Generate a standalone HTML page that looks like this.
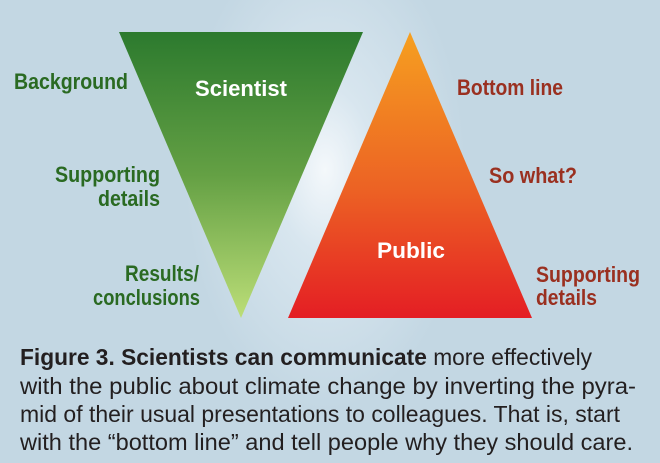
<!DOCTYPE html>
<html><head><meta charset="utf-8"><style>
html,body{margin:0;padding:0;width:660px;height:463px;overflow:hidden;background:#c3d7e3}
svg{display:block}
</style></head><body>
<svg width="660" height="463" viewBox="0 0 660 463" xmlns="http://www.w3.org/2000/svg">
<defs>
<radialGradient id="glow" cx="325" cy="170" r="200" gradientUnits="userSpaceOnUse" gradientTransform="translate(325 170) scale(0.7 1.2) translate(-325 -170)">
<stop offset="0" stop-color="#f4f8fb"/>
<stop offset="0.35" stop-color="#d8e6ef"/>
<stop offset="1" stop-color="#c3d7e3"/>
</radialGradient>
<linearGradient id="gr" x1="0" y1="32" x2="0" y2="318" gradientUnits="userSpaceOnUse">
<stop offset="0" stop-color="#2c7a2e"/>
<stop offset="0.5" stop-color="#64a044"/>
<stop offset="1" stop-color="#bcde78"/>
</linearGradient>
<linearGradient id="or" x1="0" y1="32" x2="0" y2="318" gradientUnits="userSpaceOnUse">
<stop offset="0" stop-color="#f6a020"/>
<stop offset="0.55" stop-color="#ec6224"/>
<stop offset="1" stop-color="#e41e24"/>
</linearGradient>
</defs>
<rect width="660" height="463" fill="url(#glow)"/>
<polygon points="119,32 363,32 241,318" fill="url(#gr)"/>
<polygon points="410,32 532,318 288,318" fill="url(#or)"/>
<g font-family="Liberation Sans, sans-serif" font-weight="bold" font-size="22">
<text x="14" y="89" textLength="114" lengthAdjust="spacingAndGlyphs" fill="#2a6a22">Background</text>
<text x="55" y="182" textLength="105" lengthAdjust="spacingAndGlyphs" fill="#2a6a22">Supporting</text>
<text x="98" y="206" textLength="62" lengthAdjust="spacingAndGlyphs" fill="#2a6a22">details</text>
<text x="125" y="281" textLength="74" lengthAdjust="spacingAndGlyphs" fill="#2a6a22">Results/</text>
<text x="93" y="305" textLength="107" lengthAdjust="spacingAndGlyphs" fill="#2a6a22">conclusions</text>
<text x="195" y="96" textLength="92" lengthAdjust="spacingAndGlyphs" fill="#ffffff">Scientist</text>
<text x="377" y="258" textLength="68" lengthAdjust="spacingAndGlyphs" fill="#ffffff">Public</text>
<text x="457" y="95" textLength="106" lengthAdjust="spacingAndGlyphs" fill="#9a3020">Bottom line</text>
<text x="489" y="183" textLength="88" lengthAdjust="spacingAndGlyphs" fill="#9a3020">So what?</text>
<text x="536" y="282" textLength="104" lengthAdjust="spacingAndGlyphs" fill="#9a3020">Supporting</text>
<text x="536" y="305" textLength="61" lengthAdjust="spacingAndGlyphs" fill="#9a3020">details</text>
</g>
<g font-family="Liberation Sans, sans-serif" font-size="23" fill="#231f20">
<text x="20" y="365" textLength="572" lengthAdjust="spacingAndGlyphs"><tspan font-weight="bold">Figure 3. Scientists can communicate</tspan> more effectively</text>
<text x="20" y="394" textLength="616" lengthAdjust="spacingAndGlyphs">with the public about climate change by inverting the pyra-</text>
<text x="20" y="422" textLength="600" lengthAdjust="spacingAndGlyphs">mid of their usual presentations to colleagues. That is, start</text>
<text x="20" y="450" textLength="613" lengthAdjust="spacingAndGlyphs">with the “bottom line” and tell people why they should care.</text>
</g>
</svg>
</body></html>
